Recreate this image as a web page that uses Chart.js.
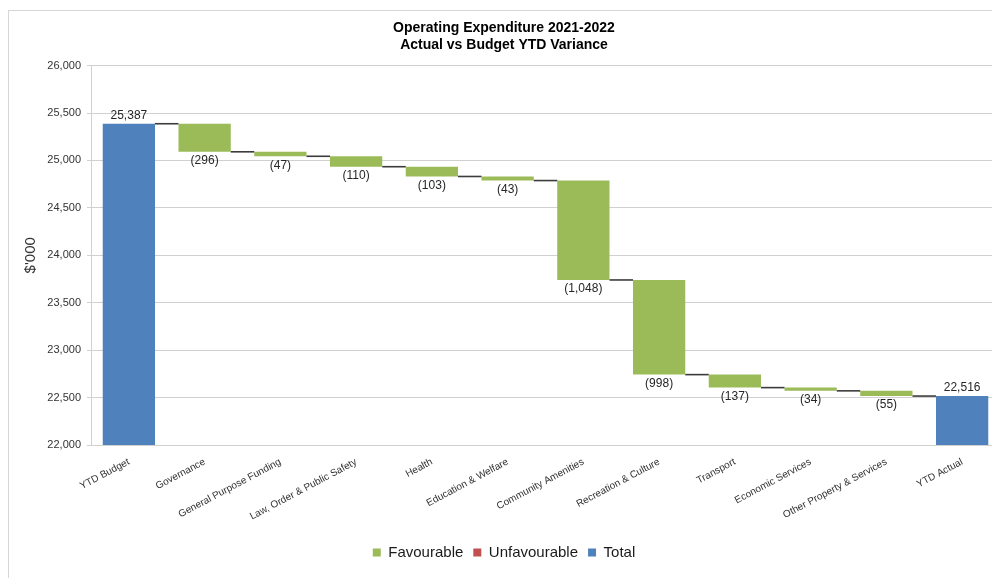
<!DOCTYPE html>
<html>
<head>
<meta charset="utf-8">
<title>Operating Expenditure 2021-2022</title>
<script src="https://cdn.jsdelivr.net/npm/chart.js@4.4.1/dist/chart.umd.min.js"></script>
<style>
  html, body { margin: 0; padding: 0; background: #fff; overflow: hidden; }
  #frame {
    position: absolute; left: 8px; top: 10px; width: 1100px; height: 600px;
    border: 1px solid #d6d6d6; box-sizing: border-box;
  }
  #wrap { position: absolute; left: 0; top: 0; width: 1000px; height: 578px; }
</style>
</head>
<body>
<div id="frame"></div>
<div id="wrap"><canvas id="grafico" width="1000" height="578"></canvas></div>
<script>
const categorias = ["YTD Budget", "Governance", "General Purpose Funding", "Law, Order & Public Safety",
    "Health", "Education & Welfare", "Community Amenities", "Recreation & Culture", "Transport",
    "Economic Services", "Other Property & Services", "YTD Actual"];
const presupuestoYTD = 25387;
const variaciones = [-296, -47, -110, -103, -43, -1048, -998, -137, -34, -55];
const realYTD = 22516;
const ticksY = [22000, 22500, 23000, 23500, 24000, 24500, 25000, 25500, 26000];

const VERDE = "#9bbb59";
const ROJO = "#c0504d";
const AZUL = "#4f81bd";
const FUENTE = "'Liberation Sans', Arial, sans-serif";

// Barras flotantes: cada variacion parte del nivel acumulado anterior
let nivel = presupuestoYTD;
const favorables = [null];
const desfavorables = [null];
const niveles = [presupuestoYTD];
variaciones.forEach(v => {
    const fin = nivel + v;
    if (v <= 0) { favorables.push([nivel, fin]); desfavorables.push(null); }
    else { favorables.push(null); desfavorables.push([nivel, fin]); }
    nivel = fin;
    niveles.push(nivel);
});
favorables.push(null);
desfavorables.push(null);
niveles.push(realYTD);
const totales = [presupuestoYTD, ...variaciones.map(() => null), realYTD];

function formato(v) {
    const s = Math.abs(v).toLocaleString("en-US");
    return v < 0 ? `(${s})` : s;
}

// Lineas de union entre barras y etiquetas de valor
const cascada = {
    id: "cascada",
    afterDatasetsDraw(chart) {
        const ctx = chart.ctx;
        const y = chart.scales.y;
        const barras = chart.getDatasetMeta(0).data;
        const ancho = barras[1].width || chart.getDatasetMeta(2).data[0].width;
        const x = chart.scales.x;
        ctx.save();
        ctx.strokeStyle = "#3c3c3c";
        ctx.lineWidth = 1.6;
        for (let i = 0; i < categorias.length - 1; i++) {
            const py = y.getPixelForValue(niveles[i]);
            const x1 = x.getPixelForValue(i) + ancho / 2;
            const x2 = x.getPixelForValue(i + 1) - ancho / 2;
            ctx.beginPath();
            ctx.moveTo(x1, py);
            ctx.lineTo(x2, py);
            ctx.stroke();
        }
        ctx.fillStyle = "#262626";
        ctx.font = "12px " + FUENTE;
        ctx.textAlign = "center";
        ctx.textBaseline = "middle";
        totales.forEach((v, i) => {
            if (v === null) return;
            ctx.fillText(formato(v), x.getPixelForValue(i), y.getPixelForValue(v) - 8);
        });
        variaciones.forEach((v, k) => {
            const i = k + 1;
            const base = Math.min(niveles[k], niveles[i]);
            ctx.fillText(formato(v), x.getPixelForValue(i), y.getPixelForValue(base) + 9);
        });
        ctx.restore();
    }
};

const comun = { grouped: false, barPercentage: 0.69, categoryPercentage: 1, borderWidth: 0 };

new Chart(document.getElementById("grafico").getContext("2d"), {
    type: "bar",
    data: {
        labels: categorias,
        datasets: [
            { label: "Favourable", data: favorables, backgroundColor: VERDE, ...comun },
            { label: "Unfavourable", data: desfavorables, backgroundColor: ROJO, ...comun },
            { label: "Total", data: totales, backgroundColor: AZUL, ...comun }
        ]
    },
    options: {
        responsive: false,
        animation: false,
        layout: { padding: { left: 8, right: 0, top: 10, bottom: 8 } },
        plugins: {
            title: {
                display: true,
                text: ["Operating Expenditure 2021-2022", "Actual vs Budget YTD Variance"],
                color: "#000",
                font: { family: FUENTE, size: 14, weight: "bold", lineHeight: 1.2 },
                padding: { top: 10, bottom: 12 }
            },
            legend: {
                position: "bottom",
                labels: {
                    color: "#1a1a1a",
                    font: { family: FUENTE, size: 15 },
                    boxWidth: 8, boxHeight: 8,
                    padding: 10
                }
            },
            tooltip: { enabled: false }
        },
        scales: {
            x: {
                grid: { display: false },
                border: { color: "#d0d0d0" },
                ticks: {
                    color: "#333",
                    font: { family: FUENTE, size: 10 },
                    minRotation: 28, maxRotation: 28,
                    autoSkip: false
                },
                afterFit(scale) { scale.height = 90; }
            },
            y: {
                min: 22000, max: 26000,
                afterBuildTicks(scale) { scale.ticks = ticksY.map(v => ({ value: v })); },
                grid: { color: "#d0d0d0", tickLength: 4 },
                border: { color: "#d0d0d0" },
                ticks: {
                    color: "#333",
                    font: { family: FUENTE, size: 11 },
                    padding: 6,
                    callback: v => v.toLocaleString("en-US")
                },
                title: {
                    display: true,
                    text: "$'000",
                    color: "#333",
                    font: { family: FUENTE, size: 15 },
                    padding: { top: 14, bottom: 4 }
                },
                afterFit(scale) { scale.width = 83; }
            }
        }
    },
    plugins: [cascada]
});
</script>
</body>
</html>
